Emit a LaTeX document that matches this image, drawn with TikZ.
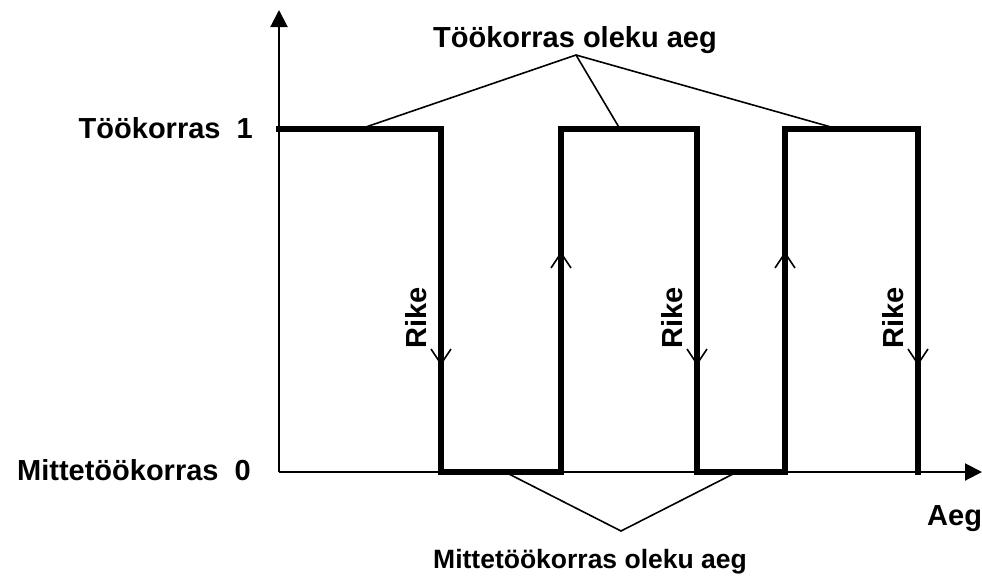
\documentclass[tikz,border=0pt]{standalone}
\usepackage{fontspec}
\setmainfont{Liberation Sans}
\usetikzlibrary{arrows.meta}
\begin{document}
\begin{tikzpicture}[x=1pt,y=-1pt,
  lbl/.style={font=\fontsize{29}{34}\selectfont\bfseries, inner sep=0pt},
  lblsmall/.style={font=\fontsize{26.5}{32}\selectfont\bfseries, inner sep=0pt},
  axis/.style={line width=2pt, -{Triangle[length=17pt,width=17pt]}},
  signal/.style={line width=5.5pt, line join=miter, line cap=rect},
  thin/.style={line width=1.6pt},
  vtip/.style={line width=1.6pt}]
\useasboundingbox (0,0) rectangle (982,576);
% axes
\coordinate (O) at (279,472);
\coordinate (Ytop) at (279,10);
\coordinate (Xend) at (982,472);
\draw[axis] (O) -- (Ytop);
\draw[axis] (O) -- (Xend);
% signal
\coordinate (s0) at (279,129);
\coordinate (s1) at (441,129);
\coordinate (s2) at (441,472);
\coordinate (s3) at (561,472);
\coordinate (s4) at (561,129);
\coordinate (s5) at (697,129);
\coordinate (s6) at (697,472);
\coordinate (s7) at (785,472);
\coordinate (s8) at (785,129);
\coordinate (s9) at (918,129);
\coordinate (s10) at (918,472);
\draw[signal] (s0) -- (s1) -- (s2) -- (s3) -- (s4) -- (s5) -- (s6) -- (s7) -- (s8) -- (s9) -- (s10);
% open arrow marks
\draw[vtip] (431,349) -- (441,364) -- (451,349);
\draw[vtip] (687,349) -- (697,364) -- (707,349);
\draw[vtip] (908,349) -- (918,364) -- (928,349);
\draw[vtip] (551,268) -- (561,253) -- (571,268);
\draw[vtip] (775,268) -- (785,253) -- (795,268);
% Rike labels
\node[lbl, rotate=90] (r1) at (416,318) {Rike};
\node[lbl, rotate=90] (r2) at (672,318) {Rike};
\node[lbl, rotate=90] (r3) at (893,318) {Rike};
% level labels
\node[lbl, anchor=base east] (one) at (253,138) {Töökorras\ \ 1};
\node[lbl, anchor=base east] (zero) at (251,480) {Mittetöökorras\ \ 0};
\node[lbl, anchor=base west] (aeg) at (927,525) {Aeg};
% top label and leaders
\node[lbl, anchor=base] (top) at (575,47) {Töökorras oleku aeg};
\coordinate (ta) at (576,55);
\coordinate (t1) at (360,129);
\coordinate (t2) at (620,129);
\coordinate (t3) at (838,129);
\draw[thin] (t1) -- (ta) -- (t3);
\draw[thin] (ta) -- (t2);
% bottom label and leaders
\node[lblsmall, anchor=base] (bot) at (590,568) {Mittetöökorras oleku aeg};
\coordinate (ba) at (621,531);
\coordinate (b1) at (505,472);
\coordinate (b2) at (737,472);
\draw[thin] (b1) -- (ba) -- (b2);
\end{tikzpicture}
\end{document}
